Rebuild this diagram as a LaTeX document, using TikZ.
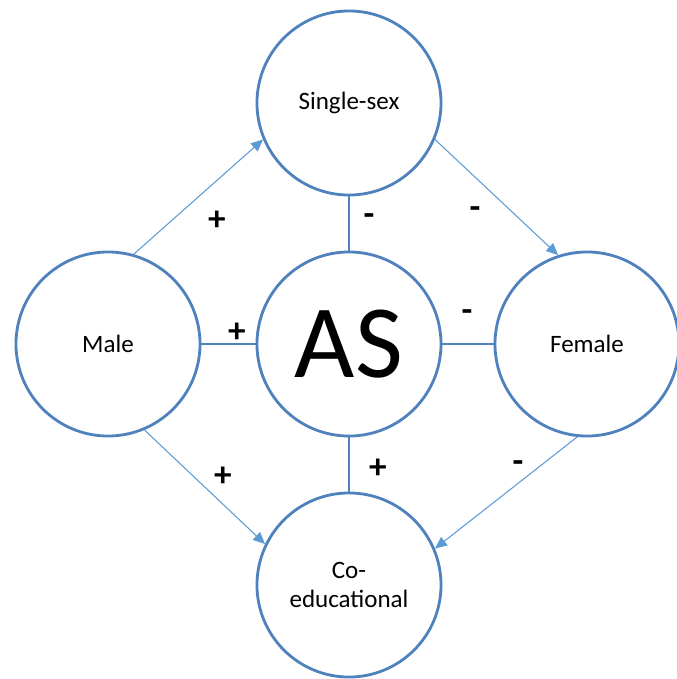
\documentclass[tikz,border=0pt]{standalone}
\usepackage{fontspec}
\setmainfont{Carlito}
\usetikzlibrary{arrows.meta}
\definecolor{ringblue}{RGB}{79,129,189}
\definecolor{arrowblue}{RGB}{91,155,213}
\tikzset{
    topic/.style = {
        draw = ringblue,
        line width = 2pt,
        circle,
        minimum size = 4.6cm,
        inner sep = 0pt,
        font = \fontsize{17.8}{21}\selectfont,
        align = center,
        },
    link/.style = {
        draw = ringblue,
        line width = 1.6pt,
        },
    effect/.style = {
        draw = arrowblue,
        line width = 0.75pt,
        -{Triangle[length=8.5pt, width=7.5pt]},
        },
    sign/.style = {
        font = \fontsize{25}{30}\selectfont\bfseries,
        inner sep = 0pt,
        },
}

\begin{document}
\begin{tikzpicture}[x=0.025cm, y=-0.025cm]
            \useasboundingbox (0,0) rectangle (677,679);

            \node[topic] (single) at (349,103) {Single-sex};
            \node[topic] (male) at (108,344) {Male};
            \node[topic, font=\fontsize{74}{80}\selectfont] (as) at (349,344) {AS};
            \node[topic] (female) at (587,344) {Female};
            \node[topic] (coed) at (349,585) {Co-\\educational};

            \draw[link] (as) -- (single);
            \draw[link] (as) -- (male);
            \draw[link] (as) -- (female);
            \draw[link] (as) -- (coed);

            \draw[effect] (male.74) -- (single.203);
            \draw[effect] (single.-23) -- (female.108);
            \draw[effect] (male.-67) -- (coed.154);
            \draw[effect] (female.264) -- (coed.23);

            \node[sign] (s1) at (217,221) {+};
            \node[sign] (s2) at (369,220) {-};
            \node[sign] (s3) at (475,213) {-};
            \node[sign] (s4) at (237,333) {+};
            \node[sign] (s5) at (467,316) {-};
            \node[sign] (s6) at (223,477) {+};
            \node[sign] (s7) at (378,469) {+};
            \node[sign] (s8) at (518,467) {-};
        \end{tikzpicture}
\end{document}
